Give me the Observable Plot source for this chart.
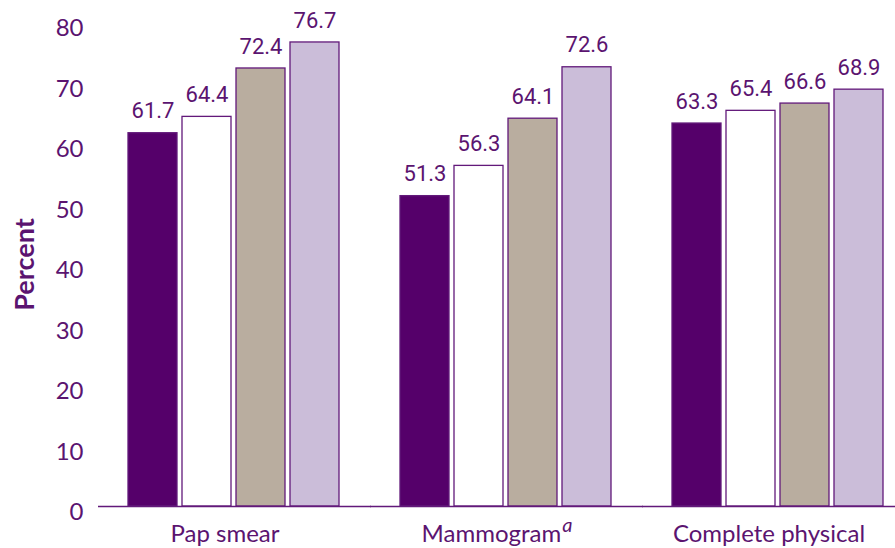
<!DOCTYPE html>
<html><head><meta charset="utf-8">
<script src="https://cdn.jsdelivr.net/npm/d3@7"></script>
<script src="https://cdn.jsdelivr.net/npm/@observablehq/plot@0.6"></script>
<style>body{margin:0;background:#fff}</style>
</head><body><div id="chart"></div>
<script>
const categories = ["Pap smear", "Mammogram", "Complete physical"];
const seriesNames = ["Series 1", "Series 2", "Series 3", "Series 4"];
const papSmear = [61.7, 64.4, 72.4, 76.7];
const mammogram = [51.3, 56.3, 64.1, 72.6];
const completePhysical = [63.3, 65.4, 66.6, 68.9];
const seriesColors = ["#55006a", "#ffffff", "#b9ad9f", "#cbbdd9"];
const yTicks = [0, 10, 20, 30, 40, 50, 60, 70, 80];
const yLabel = "Percent";

const data = [papSmear, mammogram, completePhysical].flatMap((vals, i) =>
  vals.map((v, j) => ({category: categories[i], series: seriesNames[j], value: v})));

const purple = "#5b1470";

const plot = Plot.plot({
  width: 895, height: 548,
  marginLeft: 98, marginRight: 0, marginTop: 22, marginBottom: 42,
  style: {background: "#fff", color: purple, fontFamily: "Lato, sans-serif"},
  fx: {domain: categories, paddingInner: 0.07, paddingOuter: 0, align: 0, label: null},
  x: {domain: seriesNames, paddingInner: 0.1, paddingOuter: 0.371, align: 0.717, axis: null},
  y: {domain: [0, 80], label: null},
  color: {domain: seriesNames, range: seriesColors},
  marks: [
    Plot.barY(data, {fx: "category", x: "series", y: "value", fill: "series", stroke: "#62197a", strokeWidth: 1.3}),
    Plot.text(data, {fx: "category", x: "series", y: "value", text: d => d.value.toFixed(1), dy: -22, fontSize: 22, fontFamily: "Roboto, sans-serif", fill: purple}),
    Plot.ruleY([0], {stroke: "#62197a", strokeWidth: 1.5, insetRight: -20}),
    Plot.axisY({ticks: yTicks, tickSize: 0, tickPadding: 15, dy: 6, fontSize: 24, fill: purple, label: null}),
    Plot.axisY({ticks: [], line: true, stroke: "#a67bbb", strokeWidth: 2, label: null}),
    Plot.text([yLabel], {fx: () => categories[0], frameAnchor: "left", textAnchor: "middle", rotate: -90, dx: -73, text: d => d, fontSize: 27, fontWeight: "bold", fill: purple}),
    Plot.axisFx({anchor: "bottom", tickSize: 0, tickPadding: 18, fontSize: 24, fill: purple, label: null})
  ]
});
document.getElementById("chart").append(plot);

// italic superscript "a" after Mammogram
d3.select(plot).selectAll("text").each(function() {
  const t = d3.select(this);
  if (t.text() === "Mammogram" && t.selectAll("tspan").empty()) {
    t.append("tspan").attr("font-style", "italic").attr("font-size", 20).attr("dy", "-0.5em").attr("dx", "1").text("a");
  }
  t.selectAll("tspan").each(function() {
    const s = d3.select(this);
    if (s.text() === "Mammogram") {
      d3.select(this.parentNode).append("tspan").attr("font-style", "italic").attr("font-size", 20).attr("dy", "-0.5em").text("a");
    }
  });
});
</script>
</body></html>
